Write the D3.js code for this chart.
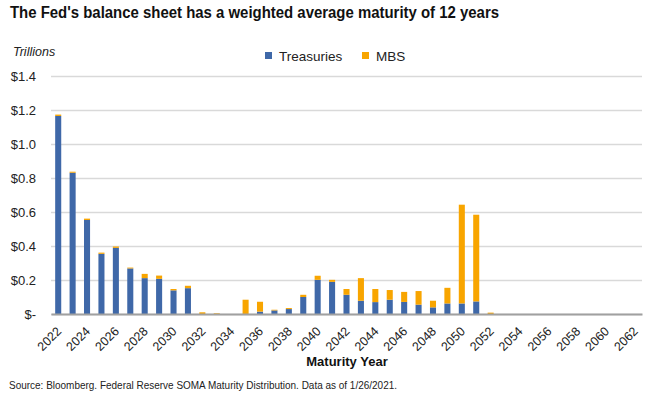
<!DOCTYPE html>
<html>
<head>
<meta charset="utf-8">
<script src="https://cdn.jsdelivr.net/npm/d3@7"></script>
<style>
  body { margin: 0; background: #fff; }
  text { font-family: "Liberation Sans", Arial, sans-serif; }
</style>
</head>
<body>
<svg id="chart" width="650" height="398"></svg>
<script>
var years = ['2022','2023','2024','2025','2026','2027','2028','2029','2030','2031',
             '2032','2033','2034','2035','2036','2037','2038','2039','2040','2041',
             '2042','2043','2044','2045','2046','2047','2048','2049','2050','2051',
             '2052','2053','2054','2055','2056','2057','2058','2059','2060','2061','2062'];

// trillions of dollars
var treasuries = [1.165, 0.831, 0.553, 0.354, 0.389, 0.268, 0.211, 0.207, 0.139, 0.152,
                  0, 0, 0, 0, 0.014, 0.021, 0.029, 0.100, 0.201, 0.189,
                  0.113, 0.078, 0.070, 0.084, 0.071, 0.055, 0.039, 0.062, 0.062, 0.074,
                  0, 0, 0, 0, 0, 0, 0, 0, 0, 0, 0];
var mbs = [0.008, 0.006, 0.008, 0.007, 0.008, 0.005, 0.025, 0.019, 0.008, 0.014,
           0.010, 0.004, 0, 0.084, 0.058, 0.004, 0.006, 0.013, 0.024, 0.012,
           0.034, 0.133, 0.077, 0.057, 0.059, 0.080, 0.039, 0.092, 0.581, 0.510,
           0.008, 0, 0, 0, 0, 0, 0, 0, 0, 0, 0];

var yTicks = [0, 0.2, 0.4, 0.6, 0.8, 1.0, 1.2, 1.4];
var yTickLabels = ['$-', '$0.2', '$0.4', '$0.6', '$0.8', '$1.0', '$1.2', '$1.4'];

var seriesNames = ['Treasuries', 'MBS'];
var colors = ['#3f68a8', '#f8a500'];

var svg = d3.select('#chart');
var margin = {left: 51, right: 8, top: 76, bottom: 84};
var W = 650, H = 398;

var x = d3.scaleBand().domain(years).range([margin.left, W - margin.right]).paddingInner(0.58).paddingOuter(0.29);
var y = d3.scaleLinear().domain([0, 1.4]).range([H - margin.bottom, margin.top]);

// title
svg.append('text')
   .attr('x', 10).attr('y', 18)
   .attr('font-size', '16px').attr('font-weight', 'bold').attr('fill', '#111')
   .attr('textLength', 489).attr('lengthAdjust', 'spacingAndGlyphs')
   .text("The Fed's balance sheet has a weighted average maturity of 12 years");

svg.append('text')
   .attr('x', 13).attr('y', 56)
   .attr('font-size', '12.5px').attr('font-style', 'italic').attr('fill', '#222')
   .text('Trillions');

// grid + y axis
var yAxis = d3.axisLeft(y).tickValues(yTicks)
   .tickFormat(function (d, i) { return yTickLabels[i]; })
   .tickSize(-(W - margin.left - margin.right)).tickPadding(15);
var gy = svg.append('g').attr('transform', 'translate(' + margin.left + ',0)').call(yAxis);
gy.select('.domain').remove();
gy.selectAll('.tick line').attr('stroke', '#d9d9d9').attr('stroke-width', 1.3);
gy.selectAll('.tick text').attr('font-size', '13px').attr('fill', '#222')
   .attr('font-family', '"Liberation Sans", Arial, sans-serif');

// stacked bars
var rows = years.map(function (yr, i) { return {year: yr, Treasuries: treasuries[i], MBS: mbs[i]}; });
var stack = d3.stack().keys(seriesNames)(rows);

svg.append('g').selectAll('g').data(stack).join('g')
   .attr('fill', function (d, i) { return colors[i]; })
   .selectAll('rect').data(function (d) { return d; }).join('rect')
   .attr('x', function (d) { return x(d.data.year); })
   .attr('width', x.bandwidth())
   .attr('y', function (d) { return y(d[1]); })
   .attr('height', function (d) { return y(d[0]) - y(d[1]); });

// x axis
var xAxis = d3.axisBottom(x)
   .tickValues(years.filter(function (d, i) { return i % 2 === 0; }))
   .tickSize(0);
var gx = svg.append('g').attr('transform', 'translate(0,' + y(0) + ')').call(xAxis);
gx.select('.domain').attr('stroke', '#a0a0a0').attr('stroke-width', 2.2);
gx.selectAll('.tick text')
   .attr('font-size', '12.5px').attr('fill', '#222')
   .attr('font-family', '"Liberation Sans", Arial, sans-serif')
   .attr('text-anchor', 'end')
   .attr('x', 0).attr('y', 0).attr('dy', 0)
   .attr('transform', 'translate(4,18) rotate(-45)');

svg.append('text')
   .attr('x', 347).attr('y', 366).attr('text-anchor', 'middle')
   .attr('font-size', '13px').attr('font-weight', 'bold').attr('fill', '#111')
   .text('Maturity Year');

// legend
var legend = svg.append('g').attr('transform', 'translate(265,56)');
var lx = [0, 97];
seriesNames.forEach(function (name, i) {
  legend.append('rect').attr('x', lx[i]).attr('y', -4).attr('width', 7).attr('height', 7).attr('fill', colors[i]);
  legend.append('text').attr('x', lx[i] + 14).attr('y', 4.5)
     .attr('font-size', '13.5px').attr('fill', '#222').text(name);
});

svg.append('text')
   .attr('x', 9).attr('y', 389)
   .attr('font-size', '10.5px').attr('fill', '#222')
   .attr('textLength', 388).attr('lengthAdjust', 'spacingAndGlyphs')
   .text('Source: Bloomberg. Federal Reserve SOMA Maturity Distribution. Data as of 1/26/2021.');
</script>
</body>
</html>
